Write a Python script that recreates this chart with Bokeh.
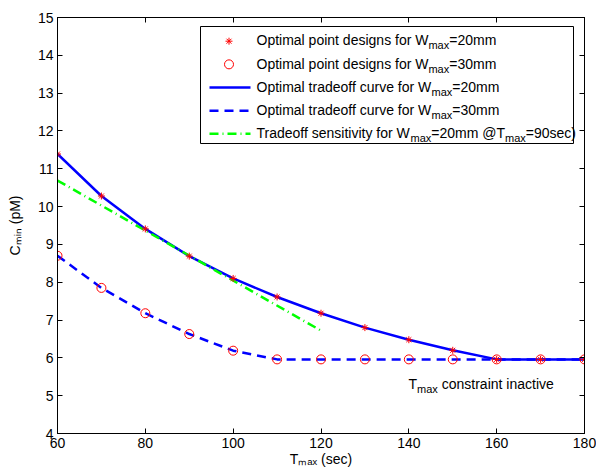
import math
from bokeh.plotting import figure
from bokeh.models import Label, LinearAxis, FixedTicker, Range1d
from bokeh.embed import file_html
from bokeh.resources import INLINE

# ---------------- data ----------------
t_max = [60, 70, 80, 90, 100, 110, 120, 130, 140, 150, 160, 170, 180]
c_min_w20 = [11.39, 10.28, 9.41, 8.69, 8.10, 7.61, 7.18, 6.80, 6.48, 6.20, 5.96, 5.96, 5.96]
c_min_w30 = [8.70, 7.85, 7.18, 6.63, 6.19, 5.96, 5.96, 5.96, 5.96, 5.96, 5.96, 5.96, 5.96]
sens_t = [60, 120]
sens_c = [10.69, 6.72]
x_ticks = [60, 80, 100, 120, 140, 160, 180]
y_ticks = [4, 5, 6, 7, 8, 9, 10, 11, 12, 13, 14, 15]

legend_rows = [
    [("Optimal point designs for W", 0), ("max", 1), ("=20mm", 0)],
    [("Optimal point designs for W", 0), ("max", 1), ("=30mm", 0)],
    [("Optimal tradeoff curve for W", 0), ("max", 1), ("=20mm", 0)],
    [("Optimal tradeoff curve for W", 0), ("max", 1), ("=30mm", 0)],
    [("Tradeoff sensitivity for W", 0), ("max", 1), ("=20mm @T", 0), ("max", 1), ("=90sec)", 0)],
]
x_title = "T\u2098\u2090\u2093 (sec)"
y_title = "C\u2098\u1d62\u2099 (pM)"
note = [("T", 0), ("max", 1), (" constraint inactive", 0)]

# ---------------- layout ----------------
FONT = "Liberation Sans"
FS, SS, DROP = 14, 11, 5
W, H = 596, 469
BL, BR, BT, BB = 57, 12, 17, 36
X0, X1, Y0, Y1 = 60, 180, 4, 15
FW, FH = W - BL - BR, H - BT - BB
PX0, PY0 = BL, BT          # frame top-left on the page


def dx(px):
    return X0 + (px - PX0) * (X1 - X0) / FW


def dy(py):
    return Y0 + (PY0 + FH - py) * (Y1 - Y0) / FH


HW = {' ': 278, '(': 333, ')': 333, '@': 1015, '=': 584, 'C': 722, 'M': 833, 'O': 778,
      'T': 611, 'W': 944, 'a': 556, 'c': 500, 'd': 556, 'e': 556, 'f': 278, 'g': 556,
      'i': 222, 'l': 222, 'm': 833, 'n': 556, 'o': 556, 'p': 556, 'r': 333, 's': 500,
      't': 278, 'u': 556, 'v': 500, 'x': 500, 'y': 500}


def tw(s, size):
    return sum(HW.get(ch, 556) for ch in s) * size / 1000.0


p = figure(width=W, height=H, x_range=Range1d(X0, X1), y_range=Range1d(Y0, Y1),
           output_backend="svg", toolbar_location=None,
           min_border_left=BL, min_border_right=BR, min_border_top=BT, min_border_bottom=BB)
p.xgrid.visible = False
p.ygrid.visible = False
p.outline_line_color = "black"
p.outline_line_width = 1
p.background_fill_color = "white"
p.border_fill_color = "white"


def style_axis(ax, ticks, show_labels):
    ax.ticker = FixedTicker(ticks=ticks)
    ax.major_tick_in = 5
    ax.major_tick_out = 0
    ax.minor_tick_line_color = None
    ax.axis_line_color = "black"
    ax.axis_line_width = 1
    ax.major_tick_line_color = "black"
    ax.major_tick_line_width = 1
    if show_labels:
        ax.major_label_text_font = FONT
        ax.major_label_text_font_size = f"{FS}px"
        ax.major_label_text_color = "black"
        ax.major_label_standoff = 4
        ax.axis_label_text_font = FONT
        ax.axis_label_text_font_size = f"{FS}px"
        ax.axis_label_text_font_style = "normal"
        ax.axis_label_text_color = "black"
    else:
        ax.major_label_text_font_size = "1px"
        ax.major_label_text_color = None
        ax.major_label_standoff = 0


style_axis(p.xaxis[0], x_ticks, True)
style_axis(p.yaxis[0], y_ticks, True)
p.xaxis[0].axis_label = x_title
p.xaxis[0].axis_label_standoff = 0
p.xaxis[0].major_label_standoff = 4
p.yaxis[0].axis_label = y_title
p.yaxis[0].axis_label_standoff = 12
top_ax = LinearAxis()
right_ax = LinearAxis()
style_axis(top_ax, x_ticks, False)
style_axis(right_ax, y_ticks, False)
p.add_layout(top_ax, "above")
p.add_layout(right_ax, "right")

BLUE, RED, GREEN = "#0000ff", "#ff0000", "#00ff00"

# ---------------- series ----------------
p.line(t_max, c_min_w20, line_color=BLUE, line_width=2.5)
p.line(t_max, c_min_w30, line_color=BLUE, line_width=2.5, line_dash="9 6")
p.line(sens_t, sens_c, line_color=GREEN, line_width=2.5, line_dash="9 4 1 4")
p.scatter(t_max, c_min_w20, marker="asterisk", size=7, line_color=RED, line_width=1)
p.scatter(t_max, c_min_w30, marker="circle", size=9, line_color=RED, fill_color=None, line_width=1)


def rich(x, y, parts):
    off = 0.0
    for s, sub in parts:
        fs = SS if sub else FS
        d = DROP if sub else 0
        lead = len(s) - len(s.lstrip(" "))
        txt = s.lstrip(" ")
        o = off + tw(" " * lead, fs)
        p.add_layout(Label(x=x, y=y, x_offset=o, y_offset=-d, text=txt, text_font=FONT,
                           text_font_size=f"{fs}px", text_color="black", text_align="left",
                           text_baseline="alphabetic"))
        off += tw(s, fs)


# ---------------- legend ----------------
LEG_L, LEG_R, LEG_T, LEG_B = 200, 573, 26, 143
p.quad(left=[dx(LEG_L)], right=[dx(LEG_R)], top=[dy(LEG_T)], bottom=[dy(LEG_B)],
       fill_color="white", line_color="black", line_width=1)
row_y = [40.7 + 23.15 * i for i in range(5)]
SYM_X, LINE_A, LINE_B, TEXT_X = 228.5, 209, 250, 256
p.scatter([dx(SYM_X)], [dy(row_y[0])], marker="asterisk", size=7, line_color=RED, line_width=1)
p.scatter([dx(SYM_X)], [dy(row_y[1])], marker="circle", size=9, line_color=RED,
          fill_color=None, line_width=1)
p.line([dx(LINE_A), dx(LINE_B)], [dy(row_y[2])] * 2, line_color=BLUE, line_width=2.5)
p.line([dx(LINE_A), dx(LINE_B)], [dy(row_y[3])] * 2, line_color=BLUE, line_width=2.5,
       line_dash="9 6")
p.line([dx(LINE_A), dx(LINE_B)], [dy(row_y[4])] * 2, line_color=GREEN, line_width=2.5,
       line_dash="9 4 1 4")
for parts, ry in zip(legend_rows, row_y):
    rich(dx(TEXT_X), dy(ry - 0.8), parts)

rich(dx(408), dy(383), note)

open("out.html", "w").write(file_html(p, INLINE))
